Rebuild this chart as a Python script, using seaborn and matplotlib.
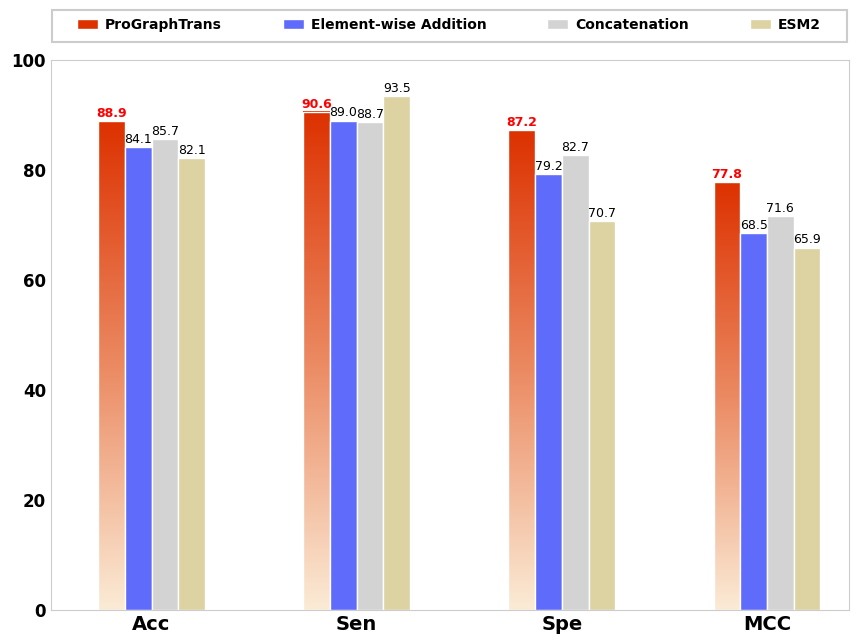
import matplotlib
matplotlib.use("Agg")
import matplotlib.pyplot as plt
import seaborn as sns
import numpy as np
import pandas as pd
from matplotlib.colors import LinearSegmentedColormap
from matplotlib.patches import Patch, Rectangle

metrics = ["Acc", "Sen", "Spe", "MCC"]
methods = ["ProGraphTrans", "Element-wise Addition", "Concatenation", "ESM2"]
prographtrans = [88.9, 90.6, 87.2, 77.8]
addition = [84.1, 89.0, 79.2, 68.5]
concat = [85.7, 88.7, 82.7, 71.6]
esm2 = [82.1, 93.5, 70.7, 65.9]

colors = ["#DD3100", "#5F6BFA", "#D3D3D3", "#DDD2A2"]

df = pd.DataFrame({
    "metric": metrics * 4,
    "method": [m for m in methods for _ in metrics],
    "value": prographtrans + addition + concat + esm2,
})

sns.set_style("white")
plt.rcParams['font.family'] = ['DejaVu Sans']
plt.rcParams['text.color'] = 'black'

fig = plt.figure(figsize=(8.59, 6.44), dpi=100)
ax = fig.add_axes([0.0594, 0.0528, 0.929, 0.854])

sns.barplot(data=df, x="metric", y="value", hue="method", hue_order=methods,
            palette=colors, saturation=1, width=0.52, edgecolor="white",
            linewidth=1, legend=False, ax=ax)

# gradient fill for the first series
cmap = LinearSegmentedColormap.from_list("grad", ["#FBEBD6", "#EB8A62", "#DD3100"])
grad = np.linspace(0, 1, 256).reshape(-1, 1)
for bar in ax.patches[:len(metrics)]:
    x0, w, h = bar.get_x(), bar.get_width(), bar.get_height()
    bar.set_facecolor("none")
    ax.imshow(grad, extent=[x0, x0 + w, 0, h], origin="lower", cmap=cmap,
              aspect="auto", zorder=bar.get_zorder() - 0.1)

for i, cont in enumerate(ax.containers):
    for bar in cont:
        h = bar.get_height()
        if i == 0:
            ax.text(bar.get_x() + bar.get_width() / 2, h + 0.2, f"{h:.1f}",
                    ha="center", va="bottom", fontsize=9, color="red", fontweight="bold")
        else:
            ax.text(bar.get_x() + bar.get_width() / 2, h + 0.2, f"{h:.1f}",
                    ha="center", va="bottom", fontsize=9, color="black")

ax.set_xlim(-0.49, 3.40)
ax.set_ylim(0, 100)
ax.set_xlabel("")
ax.set_ylabel("")
ax.set_yticks(np.arange(0, 101, 20))
for lbl in ax.get_xticklabels():
    lbl.set_fontsize(14)
    lbl.set_fontweight("bold")
    lbl.set_color("black")
for lbl in ax.get_yticklabels():
    lbl.set_fontsize(12)
    lbl.set_fontweight("bold")
    lbl.set_color("black")
for sp in ax.spines.values():
    sp.set_color("#CCCCCC")
    sp.set_visible(True)
ax.tick_params(length=0)

handles = [Patch(facecolor=c, label=m) for c, m in zip(colors, methods)]
leg = fig.legend(handles=handles, loc="center", ncol=4,
                 bbox_to_anchor=(0.5227, 0.9612), frameon=False,
                 prop={"weight": "bold", "size": 10}, handlelength=1.5,
                 handletextpad=0.5, columnspacing=4.4, labelcolor="black")
fig.patches.append(Rectangle((52 / 859, 1 - 42 / 644), 795 / 859, 32 / 644,
                             transform=fig.transFigure, fill=False,
                             edgecolor="#CCCCCC", linewidth=1.5))

fig.savefig("out.png", dpi=100)
